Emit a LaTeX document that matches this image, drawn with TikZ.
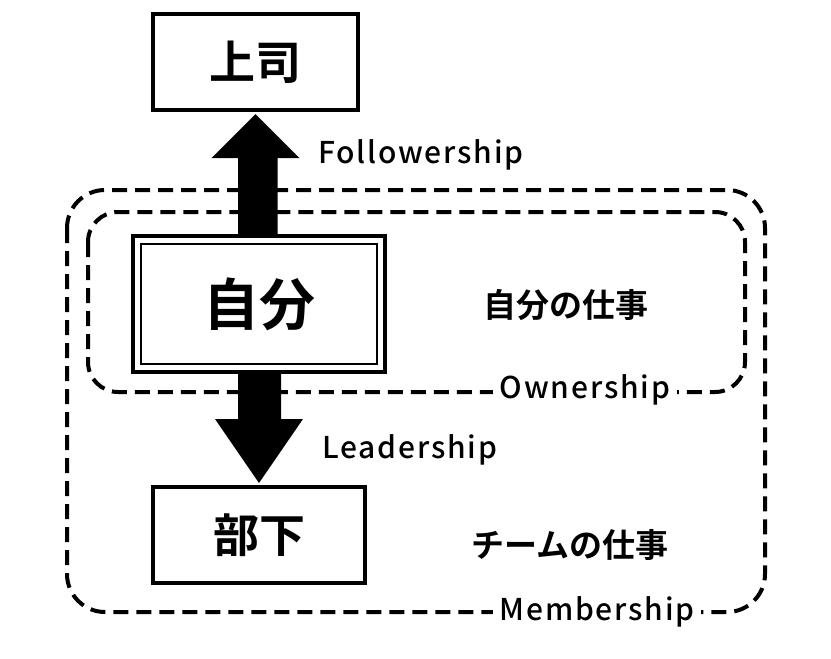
\documentclass[tikz,border=0pt]{standalone}
\usepackage{fontspec}
\setmainfont{Noto Sans CJK JP}[BoldFont={* Bold}]
\newfontfamily\jpb{Noto Sans CJK JP Bold}
\newfontfamily\latlab{Noto Sans CJK JP Medium}[LetterSpace=6]
\usetikzlibrary{calc}
\begin{document}
\begin{tikzpicture}[x=1pt,y=-1pt,
  box/.style={draw,line width=4pt,minimum width=#1,inner sep=0pt,font=\jpb\fontsize{46}{50}\selectfont},
  dashbox/.style={draw,line width=4pt,dash pattern=on 15pt off 8pt,rounded corners=38pt},
  lab/.style={fill=white,inner sep=7pt,font=\latlab\fontsize{30}{33}\selectfont},
  jlab/.style={font=\jpb\fontsize{33}{36}\selectfont}]
\useasboundingbox (0,0) rectangle (831,659);
\fill[white] (0,0) rectangle (831,659);
\draw[dashbox] (67,190) rectangle (765,612);
\draw[dashbox,rounded corners=30pt] (88,212) rectangle (745,392);
\node[box=205pt,minimum height=96pt] (boss) at (255.5,62) {上司};
\node[box=212pt,minimum height=96pt] (sub) at (259,535) {部下};
\node[draw,line width=4pt,minimum width=252pt,minimum height=136pt,fill=white] (me) at (259,304) {};
\node[draw,line width=1.2pt,minimum width=236pt,minimum height=120pt,inner sep=0pt,font=\jpb\fontsize{56}{60}\selectfont] (mein) at (me) {自分};
\fill ($(boss.south)+(0,2)$) -- ++(44,44) -- ++(-22,0) |- ($(me.north)+(-21,0)$) |- ($(boss.south)+(-22,46)$) -- ++(-22,0) -- cycle;
\fill ($(sub.north)+(0,-2)$) -- ++(44,-64) -- ++(-22,0) |- ($(me.south)+(-21,0)$) |- ($(sub.north)+(-22,-66)$) -- ++(-22,0) -- cycle;
\node[lab,anchor=west,inner sep=4pt] (fol) at (314,155) {Followership};
\node[lab,anchor=west,inner sep=4pt] (lea) at (318,450) {Leadership};
\node[lab] (own) at (585,390) {Ownership};
\node[lab] (mem) at (597,612) {Membership};
\node[jlab] (j1) at (566,305) {自分の仕事};
\node[jlab] (j2) at (570,545) {チームの仕事};
\end{tikzpicture}
\end{document}
